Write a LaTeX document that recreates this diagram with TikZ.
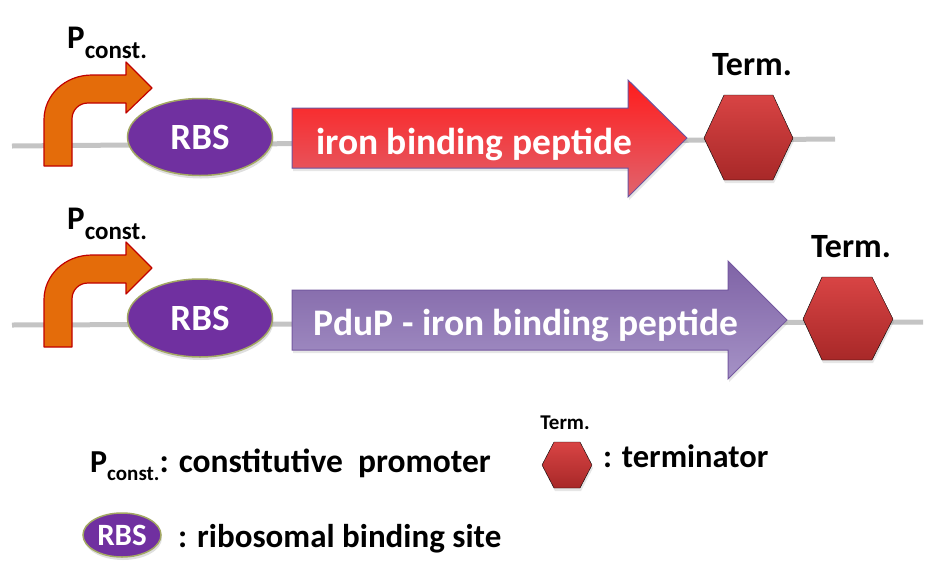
\documentclass[tikz,border=0pt]{standalone}
\usepackage{fontspec}
\setmainfont{Carlito}
\usetikzlibrary{shapes.geometric,shadows}
\definecolor{dnagray}{HTML}{C4C4C4}
\definecolor{promorange}{HTML}{E46C0A}
\definecolor{promred}{HTML}{C00000}
\definecolor{rbspurple}{HTML}{7030A0}
\definecolor{rbsedge}{HTML}{A3A863}
\definecolor{cdsredtop}{HTML}{FF1C1C}
\definecolor{cdsredbot}{HTML}{E0646E}
\definecolor{cdsrededge}{HTML}{6A54A0}
\definecolor{cdspurptop}{HTML}{7F63A6}
\definecolor{cdspurpbot}{HTML}{A592C6}
\definecolor{cdspurpedge}{HTML}{7458A0}
\definecolor{termtop}{HTML}{D84444}
\definecolor{termbot}{HTML}{A82828}
\tikzset{
  dna/.style={draw=dnagray, line width=5pt},
  promo/.style={fill=promorange, draw=promred, line width=1.2pt, line join=round},
  rbsbox/.style={ellipse, fill=rbspurple, draw=rbsedge, line width=1.5pt, text=white,
    inner sep=0pt, drop shadow={opacity=0.25, shadow xshift=1pt, shadow yshift=-3pt}},
  cdsred/.style={top color=cdsredtop, bottom color=cdsredbot, draw=cdsrededge, line width=1pt,
    line join=miter, drop shadow={opacity=0.2, shadow xshift=1pt, shadow yshift=-3pt}},
  cdspurp/.style={top color=cdspurptop, bottom color=cdspurpbot, draw=cdspurpedge, line width=1pt,
    line join=miter, drop shadow={opacity=0.2, shadow xshift=1pt, shadow yshift=-3pt}},
  termshape/.style={top color=termtop, bottom color=termbot,
    drop shadow={opacity=0.2, shadow xshift=1pt, shadow yshift=-3pt}},
  lbl/.style={inner sep=0pt, font=\bfseries},
  cdstext/.style={inner sep=0pt, text=white, font=\bfseries\fontsize{37.5}{37.5}\selectfont},
}
\newcommand{\pconst}[3]{{\fontsize{#1}{#1}\selectfont P}\raisebox{#3}{\fontsize{#2}{#2}\selectfont const.}}
\begin{document}
\begin{tikzpicture}[x=1pt,y=-1pt]
\useasboundingbox (0,0) rectangle (935,579);

% ---------- row 1 ----------
\coordinate (l1a) at (12,146);
\coordinate (l1b) at (835,139);
\draw[dna] (l1a) -- (l1b);

\draw[promo] (44,166) -- (44,120) .. controls (44,95) and (65,75) .. (92,75) -- (126,75) -- (126,62)
  -- (152,88) -- (126,113) -- (126,103) -- (88,103) .. controls (79,103) and (72,110) .. (72,119)
  -- (72,166) -- cycle;
\node[lbl, anchor=base west] (p1) at (67,48) {\pconst{33}{25}{-10pt}};

\node[rbsbox, minimum width=145pt, minimum height=77pt, font=\bfseries\fontsize{37}{37}\selectfont]
  (rbs1) at (200,137) {RBS};

\draw[cdsred] (292,108) -- (628,108) -- (628,80) -- (687,138) -- (628,197) -- (628,168) -- (292,168) -- cycle;
\node[cdstext] (cds1) at (474,144) {iron binding peptide};

\draw[termshape] (704,138) -- (724,95) -- (773,95) -- (793,138) -- (773,180) -- (724,180) -- cycle;
\node[lbl, anchor=base, font=\bfseries\fontsize{34}{34}\selectfont] (t1) at (752,75) {Term.};

% ---------- row 2 ----------
\coordinate (l2a) at (12,325);
\coordinate (l2b) at (923,322);
\draw[dna] (l2a) -- (l2b);

\begin{scope}[shift={(0,180)}]
\draw[promo] (44,167) -- (44,120) .. controls (44,95) and (65,75) .. (92,75) -- (126,75) -- (126,62)
  -- (152,88) -- (126,114) -- (126,103) -- (88,103) .. controls (79,103) and (72,110) .. (72,119)
  -- (72,167) -- cycle;
\end{scope}
\node[lbl, anchor=base west] (p2) at (67,229) {\pconst{33}{25}{-10pt}};

\node[rbsbox, minimum width=145pt, minimum height=78pt, font=\bfseries\fontsize{37}{37}\selectfont]
  (rbs2) at (200,318) {RBS};

\draw[cdspurp] (292,290) -- (728,290) -- (728,261) -- (787,320) -- (728,379) -- (728,350) -- (292,350) -- cycle;
\node[cdstext] (cds2) at (526,325) {PduP - iron binding peptide};

\draw[termshape] (803,319) -- (822,277) -- (872,277) -- (893,319) -- (872,360) -- (822,360) -- cycle;
\node[lbl, anchor=base, font=\bfseries\fontsize{34}{34}\selectfont] (t2) at (851,257) {Term.};

% ---------- legend ----------
\node[lbl, anchor=base west] (legp) at (90,472)
  {\pconst{32}{21}{-8pt}{\fontsize{33.5}{33.5}\selectfont: constitutive\ \ promoter}};

\node[rbsbox, minimum width=78pt, minimum height=44pt, font=\bfseries\fontsize{31}{31}\selectfont]
  (legrbs) at (122,535) {RBS};
\node[lbl, anchor=base west, font=\bfseries\fontsize{33}{33}\selectfont] (legrbstext) at (178,547)
  {: ribosomal binding site};

\draw[termshape] (542,465) -- (554,442) -- (580,442) -- (592,465) -- (580,488) -- (554,488) -- cycle;
\node[lbl, anchor=base, font=\bfseries\fontsize{21}{21}\selectfont] (legtermlbl) at (565,429) {Term.};
\node[lbl, anchor=base west, font=\bfseries\fontsize{32.5}{32.5}\selectfont] (legtermtext) at (603,467)
  {: terminator};
\end{tikzpicture}
\end{document}
